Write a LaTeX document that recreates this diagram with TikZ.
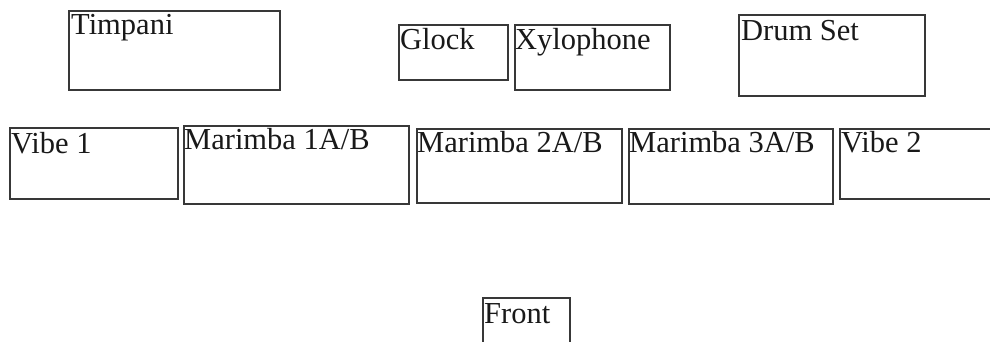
\documentclass[tikz,border=0pt]{standalone}
\usepackage{fontspec}
\setmainfont{Liberation Serif}
\begin{document}
\begin{tikzpicture}[x=1pt,y=-1pt,
  box/.style={draw=black!78, line width=1.6pt, inner sep=0pt, anchor=north west},
  lbl/.style={inner sep=0pt, anchor=base west, font=\fontsize{30.5}{32}\selectfont, text=black!90}]
\clip (0,0) rectangle (990,341);
\fill[white] (0,0) rectangle (990,341);
% boxes
\node[box, minimum width=211pt, minimum height=79pt] (timp) at (68,10) {};
\node[box, minimum width=109pt, minimum height=55pt] (glock) at (398,24) {};
\node[box, minimum width=155pt, minimum height=65pt] (xylo) at (514,24) {};
\node[box, minimum width=186pt, minimum height=81pt] (drum) at (738,14) {};
\node[box, minimum width=168pt, minimum height=71pt] (vibeA) at (9,127) {};
\node[box, minimum width=225pt, minimum height=78pt] (marA) at (183,125) {};
\node[box, minimum width=205pt, minimum height=74pt] (marB) at (416,128) {};
\node[box, minimum width=204pt, minimum height=75pt] (marC) at (628,128) {};
\node[box, minimum width=170pt, minimum height=70pt] (vibeB) at (839,128) {};
\node[box, minimum width=87pt, minimum height=60pt] (front) at (482,297) {};
% labels
\node[lbl] (ltimp) at ([xshift=3pt,yshift=-24pt]timp.north west) {Timpani};
\node[lbl] (lglock) at ([xshift=2pt,yshift=-25pt]glock.north west) {Glock};
\node[lbl] (lxylo) at ([xshift=1pt,yshift=-25pt]xylo.north west) {Xylophone};
\node[lbl] (ldrum) at ([xshift=3pt,yshift=-26pt]drum.north west) {Drum Set};
\node[lbl] (lvibeA) at ([xshift=2pt,yshift=-26pt]vibeA.north west) {Vibe 1};
\node[lbl] (lmarA) at ([xshift=1pt,yshift=-24pt]marA.north west) {Marimba 1A/B};
\node[lbl] (lmarB) at ([xshift=1pt,yshift=-24pt]marB.north west) {Marimba 2A/B};
\node[lbl] (lmarC) at ([xshift=1pt,yshift=-24pt]marC.north west) {Marimba 3A/B};
\node[lbl] (lvibeB) at ([xshift=2pt,yshift=-24pt]vibeB.north west) {Vibe 2};
\node[lbl] (lfront) at ([xshift=2pt,yshift=-26pt]front.north west) {Front};
\end{tikzpicture}
\end{document}
